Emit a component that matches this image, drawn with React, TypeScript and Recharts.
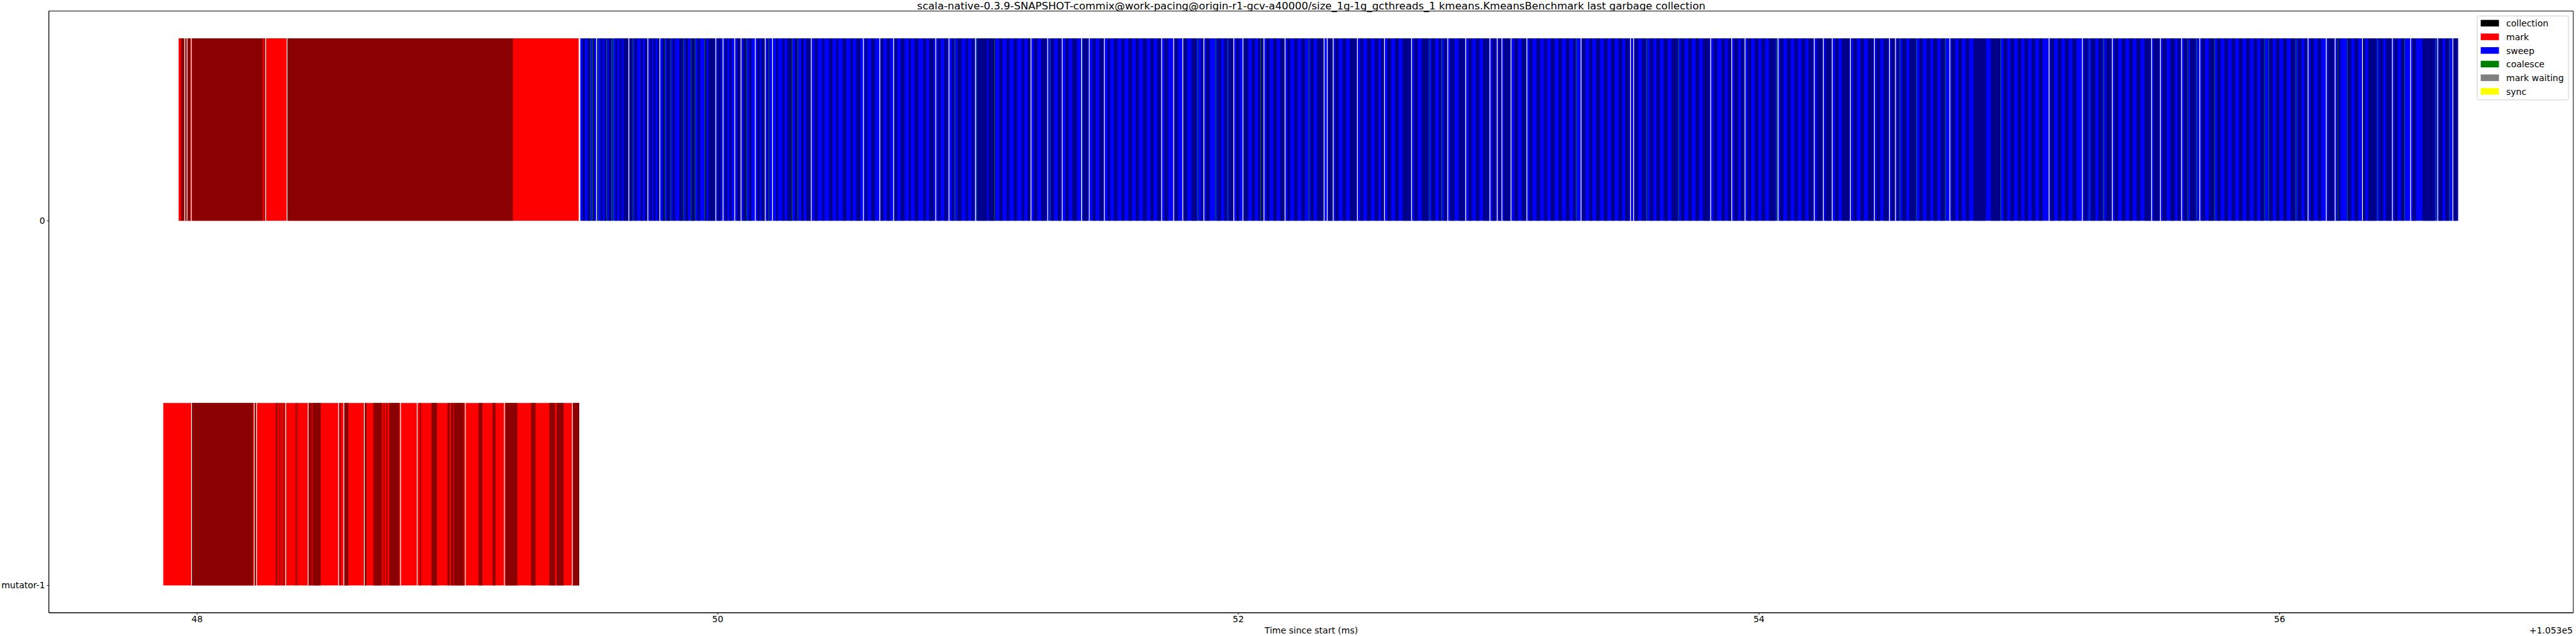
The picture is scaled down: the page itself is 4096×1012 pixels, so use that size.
import React from 'react';
import { ComposedChart, XAxis, YAxis, ReferenceArea, Scatter } from 'recharts';

const TITLE =
    'scala-native-0.3.9-SNAPSHOT-commix@work-pacing@origin-r1-gcv-a40000/size_1g-1g_gcthreads_1 kmeans.KmeansBenchmark last garbage collection';
const X_LABEL = 'Time since start (ms)';
const OFFSET_LABEL = '+1.053e5';

const threads = ['0', 'mutator-1'];
const xTicks = [48, 50, 52, 54, 56];
const legendLabels = ['collection', 'mark', 'sweep', 'coalesce', 'mark waiting', 'sync'];
const legendColors = ['#000000', '#ff0000', '#0000ff', '#008000', '#808080', '#ffff00'];

// thread "0": mark phase (ms, offset 1.053e5)
const markSpan0 = [47.929, 49.466];
const markDark0: number[][] = [
    [47.938, 47.950], [47.952, 47.959], [47.961, 47.975], [47.981, 48.252], [48.257, 48.261], [48.346, 49.213],
];
const markGaps0 = [47.951, 47.960, 47.976, 48.262, 48.344];

// thread "0": sweep phase
const sweepSpan0 = [49.472, 56.686];
const sweepDark0: number[][] = [
    [49.481, 49.490], [49.500, 49.510], [49.518, 49.527], [49.550, 49.557], [49.565, 49.572], [49.581, 49.591],
    [49.607, 49.614], [49.623, 49.631], [49.638, 49.656], [49.659, 49.673], [49.681, 49.690], [49.704, 49.712],
    [49.720, 49.730], [49.739, 49.747], [49.753, 49.761], [49.769, 49.776], [49.788, 49.797], [49.804, 49.817],
    [49.827, 49.836], [49.852, 49.868], [49.876, 49.886], [49.897, 49.912], [49.922, 49.932], [49.949, 49.957],
    [49.964, 49.991], [49.999, 50.012], [50.028, 50.037], [50.045, 50.053], [50.074, 50.088], [50.098, 50.110],
    [50.120, 50.130], [50.152, 50.162], [50.168, 50.181], [50.190, 50.195], [50.224, 50.232], [50.248, 50.257],
    [50.267, 50.285], [50.296, 50.306], [50.321, 50.331], [50.340, 50.358],
    [50.372, 50.384], [50.401, 50.410], [50.428, 50.441], [50.455, 50.463], [50.480, 50.494], [50.509, 50.518],
    [50.532, 50.548], [50.566, 50.575], [50.590, 50.604], [50.626, 50.637], [50.650, 50.662], [50.679, 50.690],
    [50.703, 50.718], [50.734, 50.742], [50.757, 50.771], [50.789, 50.800], [50.812, 50.830], [50.845, 50.856],
    [50.870, 50.884], [50.899, 50.908], [50.921, 50.937], [50.952, 50.962], [50.975, 50.986], [50.998, 51.035],
    [51.040, 51.067], [51.082, 51.094], [51.110, 51.121], [51.137, 51.150], [51.168, 51.178], [51.190, 51.200],
    [51.214, 51.228], [51.243, 51.262], [51.280, 51.292], [51.306, 51.320], [51.336, 51.349], [51.362, 51.380],
    [51.404, 51.422], [51.440, 51.452], [51.466, 51.482], [51.498, 51.508], [51.522, 51.536], [51.551, 51.562],
    [51.578, 51.592], [51.606, 51.618], [51.633, 51.648], [51.662, 51.675], [51.688, 51.702], [51.716, 51.730],
    [51.756, 51.768], [51.790, 51.804], [51.820, 51.840], [51.856, 51.865], [51.876, 51.890], [51.918, 51.934],
    [51.946, 51.956], [51.964, 51.979], [51.992, 52.004], [52.022, 52.038], [52.052, 52.064], [52.076, 52.095],
    [52.108, 52.120], [52.134, 52.148], [52.160, 52.176], [52.188, 52.200], [52.214, 52.228], [52.242, 52.256],
    [52.276, 52.290], [52.302, 52.326], [52.346, 52.361], [52.372, 52.386], [52.400, 52.414], [52.428, 52.454],
    [52.468, 52.480], [52.494, 52.510], [52.524, 52.538], [52.548, 52.558], [52.572, 52.588], [52.602, 52.616],
    [52.630, 52.662], [52.676, 52.690], [52.704, 52.730], [52.742, 52.756], [52.770, 52.779], [52.790, 52.801],
    [52.814, 52.830], [52.846, 52.870], [52.884, 52.898], [52.912, 52.926], [52.940, 52.963], [52.975, 52.990],
    [53.000, 53.009], [53.020, 53.044], [53.060, 53.074], [53.088, 53.105], [53.118, 53.130], [53.145, 53.160],
    [53.174, 53.186], [53.200, 53.215], [53.230, 53.244], [53.258, 53.272], [53.286, 53.296], [53.320, 53.334],
    [53.348, 53.360], [53.374, 53.390], [53.404, 53.418], [53.432, 53.446], [53.460, 53.474], [53.486, 53.503],
    [53.522, 53.536], [53.550, 53.566], [53.580, 53.594], [53.606, 53.620], [53.634, 53.650], [53.664, 53.688],
    [53.700, 53.714], [53.728, 53.742], [53.756, 53.770], [53.784, 53.811], [53.826, 53.840], [53.856, 53.870],
    [53.880, 53.892], [53.904, 53.920], [53.930, 53.943], [53.956, 53.970], [53.984, 53.998], [54.010, 54.024],
    [54.038, 54.064], [54.080, 54.094], [54.108, 54.122], [54.136, 54.150], [54.164, 54.178], [54.190, 54.209],
    [54.222, 54.244], [54.255, 54.278], [54.292, 54.306], [54.318, 54.348], [54.362, 54.376], [54.390, 54.404],
    [54.418, 54.440], [54.452, 54.466], [54.478, 54.498], [54.508, 54.521], [54.530, 54.538], [54.550, 54.566],
    [54.578, 54.602], [54.616, 54.630], [54.644, 54.658], [54.670, 54.686], [54.698, 54.713], [54.740, 54.754],
    [54.766, 54.780], [54.794, 54.808], [54.824, 54.872], [54.890, 54.926], [54.940, 54.954], [54.966, 54.980],
    [54.994, 55.008], [55.020, 55.034], [55.048, 55.062], [55.076, 55.090], [55.120, 55.134], [55.148, 55.162],
    [55.176, 55.190], [55.204, 55.220], [55.248, 55.262], [55.276, 55.292], [55.304, 55.320], [55.334, 55.354],
    [55.366, 55.380], [55.394, 55.408], [55.422, 55.436], [55.450, 55.466], [55.480, 55.505], [55.515, 55.538],
    [55.550, 55.566], [55.580, 55.598], [55.608, 55.620], [55.632, 55.645], [55.656, 55.678], [55.700, 55.714],
    [55.728, 55.748], [55.760, 55.774], [55.788, 55.802], [55.816, 55.830], [55.844, 55.858], [55.872, 55.886],
    [55.900, 55.914], [55.926, 55.940], [55.960, 55.974], [55.986, 56.000], [56.014, 56.028], [56.042, 56.060],
    [56.070, 56.084], [56.096, 56.106], [56.118, 56.132], [56.146, 56.160], [56.184, 56.210], [56.220, 56.234],
    [56.262, 56.276], [56.288, 56.302], [56.316, 56.330], [56.340, 56.372], [56.384, 56.398], [56.408, 56.430],
    [56.440, 56.454], [56.466, 56.478], [56.510, 56.524], [56.548, 56.596], [56.612, 56.626], [56.636, 56.650],
    [56.668, 56.684],
];
const sweepGaps0 = [
    49.533, 49.657, 49.730, 49.776, 49.991, 50.019, 50.064, 50.088, 50.143, 50.181, 50.209, 50.358,
    50.558, 50.621, 50.674, 50.836, 50.887, 50.989, 51.202, 51.266, 51.322, 51.396, 51.426, 51.484,
    51.704, 51.750, 51.785, 51.866, 51.981, 52.016, 52.097, 52.178, 52.328, 52.340, 52.363, 52.456,
    52.560, 52.664, 52.803, 52.872, 52.965, 52.993, 53.011, 53.046, 53.107, 53.315, 53.505, 53.517,
    53.813, 53.894, 53.945, 54.072, 54.211, 54.246, 54.280, 54.350, 54.442, 54.500, 54.523, 54.732,
    55.113, 55.241, 55.356, 55.507, 55.541, 55.622, 55.692, 56.108, 56.178, 56.212, 56.317, 56.432,
    56.502, 56.606, 56.664,
];
const coalesce0 = [
    49.511, 49.519, 49.541, 49.572, 49.591, 49.598, 49.673, 49.797, 49.818, 49.868, 49.897, 49.912,
    49.949, 50.110, 50.195, 50.285, 50.306, 50.910, 50.993, 51.063, 51.276, 51.398, 51.843, 51.912,
    51.958, 52.085, 52.271, 52.363, 52.733, 52.780, 53.297, 53.568, 53.690, 54.067, 54.540, 54.604,
    54.715, 54.928, 55.268, 55.322, 55.646, 55.680, 55.750, 55.942, 55.958, 56.062, 56.224, 56.259,
    56.375, 56.479, 56.599, 56.652,
];

// thread "mutator-1": mark phase
const markSpan1 = [47.870, 49.468];
const markDark1: number[][] = [
    [47.978, 48.215], [48.220, 48.226], [48.302, 48.306], [48.308, 48.311], [48.316, 48.319], [48.324, 48.327],
    [48.332, 48.336], [48.378, 48.382], [48.386, 48.388], [48.427, 48.440], [48.443, 48.475], [48.548, 48.552],
    [48.565, 48.581], [48.641, 48.651], [48.677, 48.710], [48.716, 48.720], [48.727, 48.731], [48.738, 48.777],
    [48.855, 48.860], [48.900, 48.922], [48.962, 48.970], [48.975, 48.984], [48.986, 49.025], [49.081, 49.096],
    [49.135, 49.146], [49.185, 49.230], [49.283, 49.300], [49.353, 49.375], [49.381, 49.408], [49.442, 49.468],
];
const markGaps1 = [
    47.977, 48.218, 48.227, 48.339, 48.425, 48.542, 48.562, 48.641, 48.780, 48.844, 49.029, 49.179, 49.440,
];

const W = 4096;
const H = 1012;
const FONT = '"DejaVu Sans", sans-serif';
const GAP_W = 0.003;
const LINE_W = 0.002;

const band = (row: number, x1: number, x2: number, fill: string, key: string) => (
    <ReferenceArea
        key={key}
        x1={x1}
        x2={x2}
        y1={row - 0.5}
        y2={row}
        fill={fill}
        fillOpacity={1}
        stroke="none"
        ifOverflow="visible"
    />
);

export default function App() {
    const anchors = threads.map((_, i) => ({ x: i === 0 ? markSpan0[0] : markSpan1[0], y: i }));

    const areas: React.ReactNode[] = [];
    // thread 0
    areas.push(band(0, markSpan0[0], markSpan0[1], '#ff0000', 'm0'));
    markDark0.forEach(([a, b], i) => areas.push(band(0, a, b, '#8b0000', `md0-${i}`)));
    markGaps0.forEach((t, i) => areas.push(band(0, t, t + GAP_W, '#ffffff', `mg0-${i}`)));
    areas.push(band(0, sweepSpan0[0], sweepSpan0[1], '#0000ff', 's0'));
    sweepDark0.forEach(([a, b], i) => areas.push(band(0, a, b, '#00008b', `sd0-${i}`)));
    coalesce0.forEach((t, i) => areas.push(band(0, t, t + LINE_W, '#008000', `c0-${i}`)));
    sweepGaps0.forEach((t, i) => areas.push(band(0, t, t + GAP_W, '#ffffff', `sg0-${i}`)));
    // mutator-1
    areas.push(band(1, markSpan1[0], markSpan1[1], '#ff0000', 'm1'));
    markDark1.forEach(([a, b], i) => areas.push(band(1, a, b, '#8b0000', `md1-${i}`)));
    markGaps1.forEach((t, i) => areas.push(band(1, t, t + GAP_W, '#ffffff', `mg1-${i}`)));

    return (
        <div style={{ position: 'absolute', left: 0, top: 0, width: W, height: H, background: '#fff', fontFamily: FONT }}>
            <ComposedChart width={W} height={H} margin={{ top: 17.6, right: 4.3, left: 0, bottom: 0 }}>
                <XAxis
                    type="number"
                    dataKey="x"
                    domain={[47.4305, 57.1284]}
                    allowDataOverflow
                    ticks={xTicks}
                    interval={0}
                    height={37}
                    tickSize={3}
                    tickMargin={2}
                    tickFormatter={(v) => String(v)}
                    axisLine={{ stroke: '#000', strokeWidth: 1 }}
                    tickLine={{ stroke: '#000', strokeWidth: 1 }}
                    tick={{ fontSize: 14, fill: '#000', fontFamily: FONT }}
                />
                <YAxis
                    type="number"
                    dataKey="y"
                    domain={[-0.575, 1.075]}
                    reversed
                    allowDataOverflow
                    ticks={[0, 1]}
                    interval={0}
                    width={77.7}
                    tickSize={3}
                    tickMargin={3}
                    tickFormatter={(v) => threads[v] ?? ''}
                    axisLine={{ stroke: '#000', strokeWidth: 1 }}
                    tickLine={{ stroke: '#000', strokeWidth: 1 }}
                    tick={{ fontSize: 14, fill: '#000', fontFamily: FONT }}
                />
                {areas}
                <ReferenceArea
                    x1={47.4305}
                    x2={57.1284}
                    y1={-0.575}
                    y2={1.075}
                    fill="none"
                    stroke="#000"
                    strokeWidth={1}
                    ifOverflow="visible"
                />
                <Scatter data={anchors} fill="none" shape={() => <g />} isAnimationActive={false} />
            </ComposedChart>
            <svg
                width={W}
                height={H}
                style={{ position: 'absolute', left: 0, top: 0, pointerEvents: 'none' }}
                fontFamily={FONT}
            >
                <text x={2085} y={15.2} fontSize={16.5} textAnchor="middle" fill="#000">
                    {TITLE}
                </text>
                <text x={2085} y={1008} fontSize={14} textAnchor="middle" fill="#000">
                    {X_LABEL}
                </text>
                <text x={4091} y={1008} fontSize={14} textAnchor="end" fill="#000">
                    {OFFSET_LABEL}
                </text>
                <rect x={3939} y={25.4} width={145} height={133.5} rx={2.5} fill="#fff" fillOpacity={0.8} stroke="#cccccc" strokeWidth={1} />
                {legendLabels.map((label, i) => {
                    const cy = 36.9 + i * 21.7;
                    return (
                        <g key={label}>
                            <rect x={3944.5} y={cy - 5.25} width={29} height={10.5} fill={legendColors[i]} />
                            <text x={3985} y={cy + 5.2} fontSize={14} fill="#000">
                                {label}
                            </text>
                        </g>
                    );
                })}
            </svg>
        </div>
    );
}
